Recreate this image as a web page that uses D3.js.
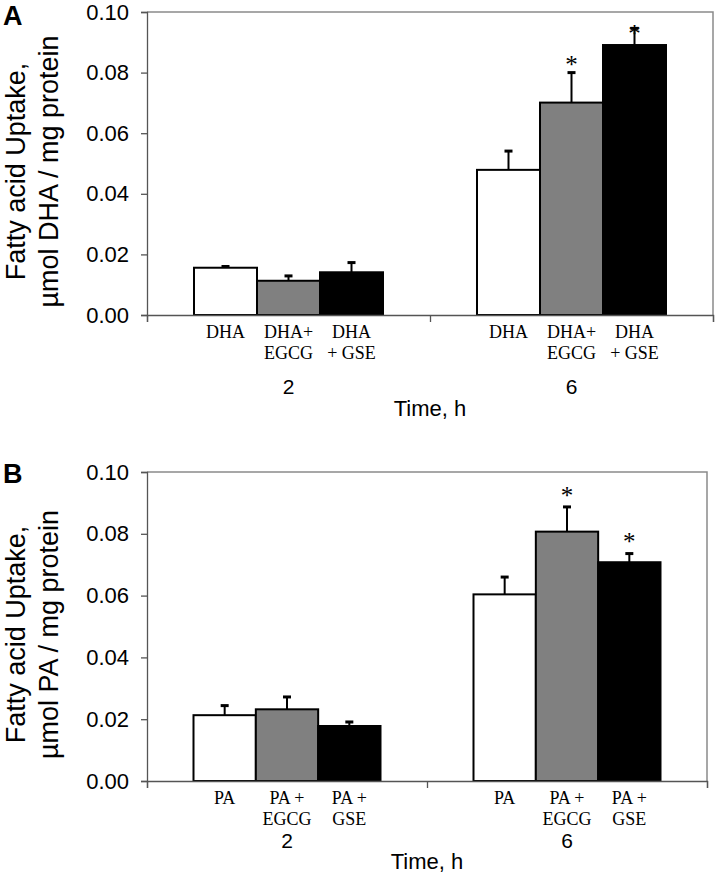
<!DOCTYPE html>
<html>
<head>
<meta charset="utf-8">
<script src="https://cdn.jsdelivr.net/npm/d3@7"></script>
<style>
  body { margin: 0; background: #fff; }
  svg { display: block; }
  .axis path, .axis line { stroke: #555; stroke-width: 1.3; }
  .axis text { font-family: "Liberation Sans", Arial, sans-serif; font-size: 22px; fill: #000; }
  .cat { font-family: "Liberation Serif", "Times New Roman", serif; font-size: 18px; }
  .grp { font-family: "Liberation Sans", Arial, sans-serif; font-size: 21px; }
  .ttl { font-family: "Liberation Sans", Arial, sans-serif; font-size: 22px; }
  .ytl { font-family: "Liberation Sans", Arial, sans-serif; font-size: 27px; }
  .star { font-family: "Liberation Serif", "Times New Roman", serif; font-size: 25px; }
  .panel { font-family: "Liberation Sans", Arial, sans-serif; font-size: 27px; font-weight: bold; }
</style>
</head>
<body>
<svg id="chart" width="717" height="877"></svg>
<script>
// time points (h)
var times = ["2", "6"];
var yTicks = [0, 0.02, 0.04, 0.06, 0.08, 0.10];
var fills = ["#ffffff", "#808080", "#000000"];

// panel A - DHA uptake
var dhaLabels = [["DHA"], ["DHA+", "EGCG"], ["DHA", "+ GSE"]];
var dhaMean = [0.0156, 0.0479];
var dhaEgcgMean = [0.0113, 0.0701];
var dhaGseMean = [0.0141, 0.0891];
var dhaErr = [0.0004, 0.0062];
var dhaEgcgErr = [0.0016, 0.0099];
var dhaGseErr = [0.0032, 0.0055];
var dhaStars = [[null, null, null], [null, 0.0800, 0.0900]];

// panel B - PA uptake
var paLabels = [["PA"], ["PA +", "EGCG"], ["PA +", "GSE"]];
var paMean = [0.0213, 0.0604];
var paEgcgMean = [0.0232, 0.0807];
var paGseMean = [0.0178, 0.0708];
var paErr = [0.0031, 0.0056];
var paEgcgErr = [0.0040, 0.0080];
var paGseErr = [0.0013, 0.0028];
var paStars = [[null, null, null], [null, 0.0895, 0.0747]];

var svg = d3.select("#chart");

function drawPanel(p) {
  var g = svg.append("g").attr("class", "panel-g");

  var y = d3.scaleLinear().domain([0, 0.10]).range([p.bottom, p.top]);
  var x0 = d3.scaleBand().domain(times).range([p.left, p.right]).paddingInner(0).paddingOuter(0);
  var x1 = d3.scaleBand().domain([0, 1, 2]).range([0, x0.bandwidth()]).paddingInner(0).paddingOuter(0.746);
  var xTick = d3.scaleLinear().domain([0, times.length]).range([p.left, p.right]);

  // plot frame (top and right in grey)
  g.append("path")
    .attr("d", "M" + p.left + "," + p.top + "H" + p.right + "V" + p.bottom)
    .attr("fill", "none")
    .attr("stroke", "#8a8a8a")
    .attr("stroke-width", 1.5);

  // bars
  var rows = [];
  times.forEach(function(t, i) {
    p.means.forEach(function(m, j) {
      rows.push({t: t, j: j, v: m[i], e: p.errs[j][i], s: p.stars[i][j]});
    });
  });

  var bars = g.append("g");
  bars.selectAll("rect")
    .data(rows).enter()
    .append("rect")
      .attr("x", function(d) { return x0(d.t) + x1(d.j); })
      .attr("y", function(d) { return y(d.v); })
      .attr("width", x1.bandwidth())
      .attr("height", function(d) { return y(0) - y(d.v); })
      .attr("fill", function(d) { return fills[d.j]; })
      .attr("stroke", "#000")
      .attr("stroke-width", 2);

  // error bars (upper only)
  var eb = g.append("g").attr("stroke", "#000");
  eb.selectAll("line.stem")
    .data(rows).enter()
    .append("line")
      .attr("class", "stem")
      .attr("x1", function(d) { return x0(d.t) + x1(d.j) + x1.bandwidth() / 2; })
      .attr("x2", function(d) { return x0(d.t) + x1(d.j) + x1.bandwidth() / 2; })
      .attr("y1", function(d) { return y(d.v); })
      .attr("y2", function(d) { return y(d.v + d.e); })
      .attr("stroke-width", 2);
  eb.selectAll("line.cap")
    .data(rows).enter()
    .append("line")
      .attr("class", "cap")
      .attr("x1", function(d) { return x0(d.t) + x1(d.j) + x1.bandwidth() / 2 - 4; })
      .attr("x2", function(d) { return x0(d.t) + x1(d.j) + x1.bandwidth() / 2 + 4; })
      .attr("y1", function(d) { return y(d.v + d.e); })
      .attr("y2", function(d) { return y(d.v + d.e); })
      .attr("stroke-width", 3);

  // significance stars
  g.append("g").selectAll("text")
    .data(rows.filter(function(d) { return d.s != null; })).enter()
    .append("text")
      .attr("class", "star")
      .attr("x", function(d) { return x0(d.t) + x1(d.j) + x1.bandwidth() / 2; })
      .attr("y", function(d) { return y(d.s); })
      .attr("text-anchor", "middle")
      .text("*");

  // axes
  g.append("g")
    .attr("class", "axis")
    .attr("transform", "translate(" + p.left + ",0)")
    .call(d3.axisLeft(y).tickValues(yTicks).tickSize(6).tickPadding(12).tickFormat(d3.format(".2f")));

  g.append("g")
    .attr("class", "axis")
    .attr("transform", "translate(0," + p.bottom + ")")
    .call(d3.axisBottom(xTick).ticks(times.length).tickSize(7).tickSizeOuter(7).tickFormat(""));

  // category labels
  var cats = g.append("g");
  times.forEach(function(t) {
    p.labels.forEach(function(lines, j) {
      var tx = cats.append("text")
        .attr("class", "cat")
        .attr("text-anchor", "middle")
        .attr("x", x0(t) + x1(j) + x1.bandwidth() / 2)
        .attr("y", p.bottom + 23);
      lines.forEach(function(l, k) {
        tx.append("tspan")
          .attr("x", x0(t) + x1(j) + x1.bandwidth() / 2)
          .attr("dy", k === 0 ? 0 : 20.5)
          .text(l);
      });
    });
    g.append("text")
      .attr("class", "grp")
      .attr("text-anchor", "middle")
      .attr("x", x0(t) + x0.bandwidth() / 2)
      .attr("y", p.bottom + p.grpDy)
      .text(t);
  });

  g.append("text")
    .attr("class", "ttl")
    .attr("text-anchor", "middle")
    .attr("x", (p.left + p.right) / 2)
    .attr("y", p.bottom + p.ttlDy)
    .text("Time, h");

  // y title
  var cy = (p.top + p.bottom) / 2 + 8;
  g.append("text")
    .attr("class", "ytl")
    .attr("text-anchor", "middle")
    .attr("transform", "translate(25," + cy + ") rotate(-90)")
    .text("Fatty acid Uptake,");
  g.append("text")
    .attr("class", "ytl")
    .attr("text-anchor", "middle")
    .attr("transform", "translate(58," + cy + ") rotate(-90)")
    .text(p.unit);

  g.append("text")
    .attr("class", "panel")
    .attr("x", 3)
    .attr("y", p.top + p.letterDy)
    .text(p.letter);
}

drawPanel({
  letter: "A", top: 12, bottom: 315, left: 147, right: 713,
  means: [dhaMean, dhaEgcgMean, dhaGseMean],
  errs: [dhaErr, dhaEgcgErr, dhaGseErr],
  stars: dhaStars, labels: dhaLabels,
  unit: "\u00b5mol DHA / mg protein",
  grpDy: 79, ttlDy: 101, letterDy: 13
});

drawPanel({
  letter: "B", top: 472, bottom: 781, left: 147, right: 707,
  means: [paMean, paEgcgMean, paGseMean],
  errs: [paErr, paEgcgErr, paGseErr],
  stars: paStars, labels: paLabels,
  unit: "\u00b5mol PA / mg protein",
  grpDy: 67, ttlDy: 88, letterDy: 11
});
</script>
</body>
</html>
